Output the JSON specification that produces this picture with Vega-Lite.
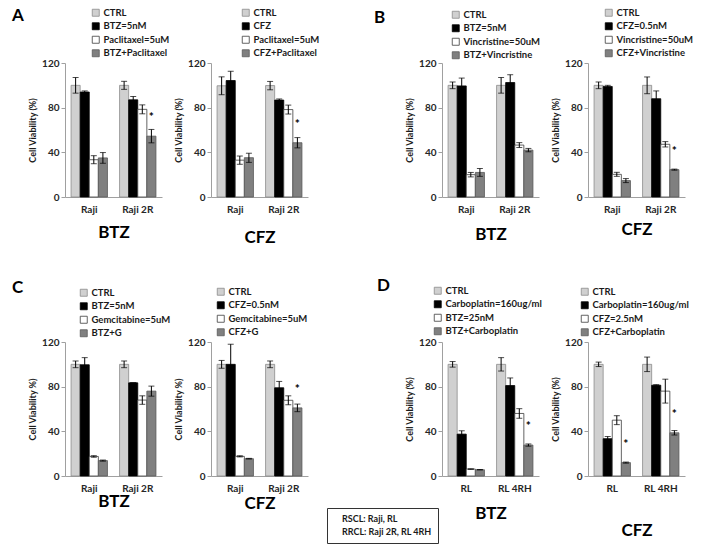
{
  "$schema": "https://vega.github.io/schema/vega-lite/v6.json",
  "padding": {"left": 12, "top": 8, "right": 5, "bottom": 4},
  "bounds": "flush",
  "align": "each",
  "columns": 5,
  "spacing": {"column": 49, "row": 145},
  "resolve": {"scale": {"color": "independent", "stroke": "independent", "xOffset": "independent", "x": "independent", "y": "independent"}, "legend": {"color": "independent", "stroke": "independent"}},
  "config": {
    "font": "Lato",
    "view": {"stroke": null},
    "axis": {"domainColor": "#a0a0a0", "tickColor": "#a0a0a0", "labelFont": "Lato", "labelFontWeight": "bold", "labelColor": "#262626", "labelFontSize": 10, "titleFont": "Lato", "titleFontWeight": "bold", "titleColor": "#1a1a1a", "grid": false},
    "axisX": {"ticks": false, "labelAngle": 0, "labelPadding": 7, "titleFontSize": 17, "titleColor": "#000000"},
    "axisY": {"tickSize": 4, "labelPadding": 2, "titleFontSize": 9, "titlePadding": 4},
    "legend": {"orient": "none", "direction": "vertical", "symbolType": "square", "symbolSize": 49, "symbolStrokeWidth": 0.8, "labelFont": "Lato", "labelFontSize": 9.5, "labelFontWeight": "bold", "labelColor": "#1a1a1a", "rowPadding": 2.5, "labelOffset": 3, "padding": 0, "titleFont": "Lato", "titleFontSize": 17, "titleFontWeight": "bold", "titleColor": "#000000", "titleOrient": "left", "titleAnchor": "start", "titleBaseline": "top"}
  },
  "concat": [
    {
      "width": 97, "height": 134,
      "data": {"values": [
        {"line": "Raji", "trt": "CTRL", "v": 100, "lo": 93, "hi": 107, "sig": ""},
        {"line": "Raji", "trt": "BTZ=5nM", "v": 94, "lo": 93, "hi": 95, "sig": ""},
        {"line": "Raji", "trt": "Paclitaxel=5uM", "v": 33.4, "lo": 29.8, "hi": 37, "sig": ""},
        {"line": "Raji", "trt": "BTZ+Paclitaxel", "v": 35, "lo": 30.2, "hi": 39.8, "sig": ""},
        {"line": "Raji 2R", "trt": "CTRL", "v": 100, "lo": 96.4, "hi": 103.6, "sig": ""},
        {"line": "Raji 2R", "trt": "BTZ=5nM", "v": 87, "lo": 84, "hi": 90, "sig": ""},
        {"line": "Raji 2R", "trt": "Paclitaxel=5uM", "v": 78.5, "lo": 74.5, "hi": 82.5, "sig": ""},
        {"line": "Raji 2R", "trt": "BTZ+Paclitaxel", "v": 54.5, "lo": 48.5, "hi": 60.5, "sig": "*"}
      ]},
      "encoding": {
        "x": {"field": "line", "type": "nominal", "sort": null, "scale": {"paddingInner": 0.25, "paddingOuter": 0.125}, "axis": {"title": "BTZ", "titlePadding": 10}},
        "xOffset": {"field": "trt", "type": "nominal", "sort": null}
      },
      "layer": [
        {"mark": {"type": "bar", "strokeWidth": 0.8},
         "encoding": {
           "y": {"field": "v", "type": "quantitative", "title": "Cell Viability (%)", "scale": {"domain": [0, 120]}, "axis": {"values": [0, 20, 40, 60, 80, 100, 120]}},
           "color": {"field": "trt", "type": "nominal", "sort": null, "scale": {"range": ["#d0d0d0", "#000000", "#ffffff", "#808080"]}, "legend": {"title": "A", "legendX": -53, "legendY": -55, "titlePadding": 67}},
           "stroke": {"field": "trt", "type": "nominal", "sort": null, "scale": {"range": ["#8c8c8c", "#000000", "#3c3c3c", "#595959"]}, "legend": {"title": "A", "legendX": -53, "legendY": -55, "titlePadding": 67}}
         }},
        {"mark": {"type": "rule", "color": "#000000", "strokeWidth": 1}, "encoding": {"y": {"field": "lo", "type": "quantitative", "title": "Cell Viability (%)"}, "y2": {"field": "hi"}}},
        {"mark": {"type": "tick", "color": "#000000", "size": 6, "thickness": 1}, "encoding": {"y": {"field": "lo", "type": "quantitative", "title": "Cell Viability (%)"}}},
        {"mark": {"type": "tick", "color": "#000000", "size": 6, "thickness": 1}, "encoding": {"y": {"field": "hi", "type": "quantitative", "title": "Cell Viability (%)"}}},
        {"mark": {"type": "text", "dy": -15, "fontSize": 12, "fontWeight": "bold", "color": "#000000", "baseline": "alphabetic"}, "encoding": {"y": {"field": "v", "type": "quantitative", "title": "Cell Viability (%)"}, "text": {"field": "sig"}}}
      ]
    },
    {
      "width": 97, "height": 134,
      "data": {"values": [
        {"line": "Raji", "trt": "CTRL", "v": 99.6, "lo": 91.6, "hi": 107.6, "sig": ""},
        {"line": "Raji", "trt": "CFZ", "v": 104.3, "lo": 96, "hi": 112.6, "sig": ""},
        {"line": "Raji", "trt": "Paclitaxel=5uM", "v": 33, "lo": 29.3, "hi": 36.7, "sig": ""},
        {"line": "Raji", "trt": "CFZ+Paclitaxel", "v": 35.2, "lo": 31, "hi": 39.2, "sig": ""},
        {"line": "Raji 2R", "trt": "CTRL", "v": 99.8, "lo": 96, "hi": 103.5, "sig": ""},
        {"line": "Raji 2R", "trt": "CFZ", "v": 86.8, "lo": 85.8, "hi": 87.8, "sig": ""},
        {"line": "Raji 2R", "trt": "Paclitaxel=5uM", "v": 78.3, "lo": 74.3, "hi": 82.3, "sig": ""},
        {"line": "Raji 2R", "trt": "CFZ+Paclitaxel", "v": 48.6, "lo": 44, "hi": 53.2, "sig": "*"}
      ]},
      "encoding": {
        "x": {"field": "line", "type": "nominal", "sort": null, "scale": {"paddingInner": 0.25, "paddingOuter": 0.125}, "axis": {"title": "CFZ", "titlePadding": 15}},
        "xOffset": {"field": "trt", "type": "nominal", "sort": null}
      },
      "layer": [
        {"mark": {"type": "bar", "strokeWidth": 0.8},
         "encoding": {
           "y": {"field": "v", "type": "quantitative", "title": "Cell Viability (%)", "scale": {"domain": [0, 120]}, "axis": {"values": [0, 20, 40, 60, 80, 100, 120]}},
           "color": {"field": "trt", "type": "nominal", "sort": null, "scale": {"range": ["#d0d0d0", "#000000", "#ffffff", "#808080"]}, "legend": {"title": null, "legendX": 30, "legendY": -55}},
           "stroke": {"field": "trt", "type": "nominal", "sort": null, "scale": {"range": ["#8c8c8c", "#000000", "#3c3c3c", "#595959"]}, "legend": {"title": null, "legendX": 30, "legendY": -55}}
         }},
        {"mark": {"type": "rule", "color": "#000000", "strokeWidth": 1}, "encoding": {"y": {"field": "lo", "type": "quantitative", "title": "Cell Viability (%)"}, "y2": {"field": "hi"}}},
        {"mark": {"type": "tick", "color": "#000000", "size": 6, "thickness": 1}, "encoding": {"y": {"field": "lo", "type": "quantitative", "title": "Cell Viability (%)"}}},
        {"mark": {"type": "tick", "color": "#000000", "size": 6, "thickness": 1}, "encoding": {"y": {"field": "hi", "type": "quantitative", "title": "Cell Viability (%)"}}},
        {"mark": {"type": "text", "dy": -15, "fontSize": 12, "fontWeight": "bold", "color": "#000000", "baseline": "alphabetic"}, "encoding": {"y": {"field": "v", "type": "quantitative", "title": "Cell Viability (%)"}, "text": {"field": "sig"}}}
      ]
    },
    {
      "width": 36, "height": 134,
      "data": {"values": []},
      "mark": {"type": "point", "opacity": 0},
      "encoding": {}
    },
    {
      "width": 97, "height": 134,
      "data": {"values": [
        {"line": "Raji", "trt": "CTRL", "v": 100, "lo": 97, "hi": 103, "sig": ""},
        {"line": "Raji", "trt": "BTZ=5nM", "v": 99.5, "lo": 92.5, "hi": 106.5, "sig": ""},
        {"line": "Raji", "trt": "Vincristine=50uM", "v": 20, "lo": 18, "hi": 22, "sig": ""},
        {"line": "Raji", "trt": "BTZ+Vincristine", "v": 22, "lo": 18.5, "hi": 25.5, "sig": ""},
        {"line": "Raji 2R", "trt": "CTRL", "v": 100, "lo": 93, "hi": 107, "sig": ""},
        {"line": "Raji 2R", "trt": "BTZ=5nM", "v": 102.5, "lo": 95.5, "hi": 109.5, "sig": ""},
        {"line": "Raji 2R", "trt": "Vincristine=50uM", "v": 46.5, "lo": 44.3, "hi": 48.7, "sig": ""},
        {"line": "Raji 2R", "trt": "BTZ+Vincristine", "v": 42, "lo": 40.5, "hi": 43.5, "sig": ""}
      ]},
      "encoding": {
        "x": {"field": "line", "type": "nominal", "sort": null, "scale": {"paddingInner": 0.25, "paddingOuter": 0.125}, "axis": {"title": "BTZ", "titlePadding": 12}},
        "xOffset": {"field": "trt", "type": "nominal", "sort": null}
      },
      "layer": [
        {"mark": {"type": "bar", "strokeWidth": 0.8},
         "encoding": {
           "y": {"field": "v", "type": "quantitative", "title": "Cell Viability (%)", "scale": {"domain": [0, 120]}, "axis": {"values": [0, 20, 40, 60, 80, 100, 120]}},
           "color": {"field": "trt", "type": "nominal", "sort": null, "scale": {"range": ["#d0d0d0", "#000000", "#ffffff", "#808080"]}, "legend": {"title": "B", "legendX": -68, "legendY": -53, "titlePadding": 65}},
           "stroke": {"field": "trt", "type": "nominal", "sort": null, "scale": {"range": ["#8c8c8c", "#000000", "#3c3c3c", "#595959"]}, "legend": {"title": "B", "legendX": -68, "legendY": -53, "titlePadding": 65}}
         }},
        {"mark": {"type": "rule", "color": "#000000", "strokeWidth": 1}, "encoding": {"y": {"field": "lo", "type": "quantitative", "title": "Cell Viability (%)"}, "y2": {"field": "hi"}}},
        {"mark": {"type": "tick", "color": "#000000", "size": 6, "thickness": 1}, "encoding": {"y": {"field": "lo", "type": "quantitative", "title": "Cell Viability (%)"}}},
        {"mark": {"type": "tick", "color": "#000000", "size": 6, "thickness": 1}, "encoding": {"y": {"field": "hi", "type": "quantitative", "title": "Cell Viability (%)"}}},
        {"mark": {"type": "text", "dy": -15, "fontSize": 12, "fontWeight": "bold", "color": "#000000", "baseline": "alphabetic"}, "encoding": {"y": {"field": "v", "type": "quantitative", "title": "Cell Viability (%)"}, "text": {"field": "sig"}}}
      ]
    },
    {
      "width": 97, "height": 134,
      "data": {"values": [
        {"line": "Raji", "trt": "CTRL", "v": 100, "lo": 97, "hi": 103, "sig": ""},
        {"line": "Raji", "trt": "CFZ=0.5nM", "v": 99, "lo": 98, "hi": 100, "sig": ""},
        {"line": "Raji", "trt": "Vincristine=50uM", "v": 20.3, "lo": 18.5, "hi": 22.1, "sig": ""},
        {"line": "Raji", "trt": "CFZ+Vincristine", "v": 14.7, "lo": 12.9, "hi": 16.5, "sig": ""},
        {"line": "Raji 2R", "trt": "CTRL", "v": 100, "lo": 92.5, "hi": 107.5, "sig": ""},
        {"line": "Raji 2R", "trt": "CFZ=0.5nM", "v": 88, "lo": 81, "hi": 95, "sig": ""},
        {"line": "Raji 2R", "trt": "Vincristine=50uM", "v": 47.2, "lo": 44.8, "hi": 49.6, "sig": ""},
        {"line": "Raji 2R", "trt": "CFZ+Vincristine", "v": 24.5, "lo": 24, "hi": 25, "sig": "*"}
      ]},
      "encoding": {
        "x": {"field": "line", "type": "nominal", "sort": null, "scale": {"paddingInner": 0.25, "paddingOuter": 0.125}, "axis": {"title": "CFZ", "titlePadding": 7}},
        "xOffset": {"field": "trt", "type": "nominal", "sort": null}
      },
      "layer": [
        {"mark": {"type": "bar", "strokeWidth": 0.8},
         "encoding": {
           "y": {"field": "v", "type": "quantitative", "title": "Cell Viability (%)", "scale": {"domain": [0, 120]}, "axis": {"values": [0, 20, 40, 60, 80, 100, 120]}},
           "color": {"field": "trt", "type": "nominal", "sort": null, "scale": {"range": ["#d0d0d0", "#000000", "#ffffff", "#808080"]}, "legend": {"title": null, "legendX": 16, "legendY": -55}},
           "stroke": {"field": "trt", "type": "nominal", "sort": null, "scale": {"range": ["#8c8c8c", "#000000", "#3c3c3c", "#595959"]}, "legend": {"title": null, "legendX": 16, "legendY": -55}}
         }},
        {"mark": {"type": "rule", "color": "#000000", "strokeWidth": 1}, "encoding": {"y": {"field": "lo", "type": "quantitative", "title": "Cell Viability (%)"}, "y2": {"field": "hi"}}},
        {"mark": {"type": "tick", "color": "#000000", "size": 6, "thickness": 1}, "encoding": {"y": {"field": "lo", "type": "quantitative", "title": "Cell Viability (%)"}}},
        {"mark": {"type": "tick", "color": "#000000", "size": 6, "thickness": 1}, "encoding": {"y": {"field": "hi", "type": "quantitative", "title": "Cell Viability (%)"}}},
        {"mark": {"type": "text", "dy": -15, "fontSize": 12, "fontWeight": "bold", "color": "#000000", "baseline": "alphabetic"}, "encoding": {"y": {"field": "v", "type": "quantitative", "title": "Cell Viability (%)"}, "text": {"field": "sig"}}}
      ]
    },
    {
      "width": 97, "height": 134,
      "data": {"values": [
        {"line": "Raji", "trt": "CTRL", "v": 100, "lo": 97, "hi": 103, "sig": ""},
        {"line": "Raji", "trt": "BTZ=5nM", "v": 99.6, "lo": 93.2, "hi": 106, "sig": ""},
        {"line": "Raji", "trt": "Gemcitabine=5uM", "v": 17.5, "lo": 16.8, "hi": 18.2, "sig": ""},
        {"line": "Raji", "trt": "BTZ+G", "v": 13.8, "lo": 13.3, "hi": 14.3, "sig": ""},
        {"line": "Raji 2R", "trt": "CTRL", "v": 100, "lo": 97, "hi": 103, "sig": ""},
        {"line": "Raji 2R", "trt": "BTZ=5nM", "v": 83.4, "lo": 83.4, "hi": 83.4, "sig": ""},
        {"line": "Raji 2R", "trt": "Gemcitabine=5uM", "v": 68, "lo": 64.2, "hi": 71.8, "sig": ""},
        {"line": "Raji 2R", "trt": "BTZ+G", "v": 76, "lo": 71.5, "hi": 80.5, "sig": ""}
      ]},
      "encoding": {
        "x": {"field": "line", "type": "nominal", "sort": null, "scale": {"paddingInner": 0.25, "paddingOuter": 0.125}, "axis": {"title": "BTZ", "titlePadding": 0}},
        "xOffset": {"field": "trt", "type": "nominal", "sort": null}
      },
      "layer": [
        {"mark": {"type": "bar", "strokeWidth": 0.8},
         "encoding": {
           "y": {"field": "v", "type": "quantitative", "title": "Cell Viability %)", "scale": {"domain": [0, 120]}, "axis": {"values": [0, 20, 40, 60, 80, 100, 120]}},
           "color": {"field": "trt", "type": "nominal", "sort": null, "scale": {"range": ["#d0d0d0", "#000000", "#ffffff", "#808080"]}, "legend": {"title": "C", "legendX": -53, "legendY": -54, "titlePadding": 55, "titleBaseline": "middle"}},
           "stroke": {"field": "trt", "type": "nominal", "sort": null, "scale": {"range": ["#8c8c8c", "#000000", "#3c3c3c", "#595959"]}, "legend": {"title": "C", "legendX": -53, "legendY": -54, "titlePadding": 55, "titleBaseline": "middle"}}
         }},
        {"mark": {"type": "rule", "color": "#000000", "strokeWidth": 1}, "encoding": {"y": {"field": "lo", "type": "quantitative", "title": "Cell Viability %)"}, "y2": {"field": "hi"}}},
        {"mark": {"type": "tick", "color": "#000000", "size": 6, "thickness": 1}, "encoding": {"y": {"field": "lo", "type": "quantitative", "title": "Cell Viability %)"}}},
        {"mark": {"type": "tick", "color": "#000000", "size": 6, "thickness": 1}, "encoding": {"y": {"field": "hi", "type": "quantitative", "title": "Cell Viability %)"}}},
        {"mark": {"type": "text", "dy": -15, "fontSize": 12, "fontWeight": "bold", "color": "#000000", "baseline": "alphabetic"}, "encoding": {"y": {"field": "v", "type": "quantitative", "title": "Cell Viability %)"}, "text": {"field": "sig"}}}
      ]
    },
    {
      "width": 97, "height": 134,
      "data": {"values": [
        {"line": "Raji", "trt": "CTRL", "v": 100, "lo": 96.5, "hi": 103.5, "sig": ""},
        {"line": "Raji", "trt": "CFZ=0.5nM", "v": 100, "lo": 82, "hi": 118, "sig": ""},
        {"line": "Raji", "trt": "Gemcitabine=5uM", "v": 17.6, "lo": 17.1, "hi": 18.1, "sig": ""},
        {"line": "Raji", "trt": "CFZ+G", "v": 15.5, "lo": 15.2, "hi": 15.8, "sig": ""},
        {"line": "Raji 2R", "trt": "CTRL", "v": 100, "lo": 97, "hi": 103, "sig": ""},
        {"line": "Raji 2R", "trt": "CFZ=0.5nM", "v": 79, "lo": 73.3, "hi": 84.7, "sig": ""},
        {"line": "Raji 2R", "trt": "Gemcitabine=5uM", "v": 67.8, "lo": 63.8, "hi": 71.8, "sig": ""},
        {"line": "Raji 2R", "trt": "CFZ+G", "v": 61, "lo": 57.6, "hi": 64.4, "sig": "*"}
      ]},
      "encoding": {
        "x": {"field": "line", "type": "nominal", "sort": null, "scale": {"paddingInner": 0.25, "paddingOuter": 0.125}, "axis": {"title": "CFZ", "titlePadding": 2}},
        "xOffset": {"field": "trt", "type": "nominal", "sort": null}
      },
      "layer": [
        {"mark": {"type": "bar", "strokeWidth": 0.8},
         "encoding": {
           "y": {"field": "v", "type": "quantitative", "title": "Cell Viability %)", "scale": {"domain": [0, 120]}, "axis": {"values": [0, 20, 40, 60, 80, 100, 120]}},
           "color": {"field": "trt", "type": "nominal", "sort": null, "scale": {"range": ["#d0d0d0", "#000000", "#ffffff", "#808080"]}, "legend": {"title": null, "legendX": 5, "legendY": -55}},
           "stroke": {"field": "trt", "type": "nominal", "sort": null, "scale": {"range": ["#8c8c8c", "#000000", "#3c3c3c", "#595959"]}, "legend": {"title": null, "legendX": 5, "legendY": -55}}
         }},
        {"mark": {"type": "rule", "color": "#000000", "strokeWidth": 1}, "encoding": {"y": {"field": "lo", "type": "quantitative", "title": "Cell Viability %)"}, "y2": {"field": "hi"}}},
        {"mark": {"type": "tick", "color": "#000000", "size": 6, "thickness": 1}, "encoding": {"y": {"field": "lo", "type": "quantitative", "title": "Cell Viability %)"}}},
        {"mark": {"type": "tick", "color": "#000000", "size": 6, "thickness": 1}, "encoding": {"y": {"field": "hi", "type": "quantitative", "title": "Cell Viability %)"}}},
        {"mark": {"type": "text", "dy": -15, "fontSize": 12, "fontWeight": "bold", "color": "#000000", "baseline": "alphabetic"}, "encoding": {"y": {"field": "v", "type": "quantitative", "title": "Cell Viability %)"}, "text": {"field": "sig"}}}
      ]
    },
    {
      "width": 36, "height": 134,
      "data": {"values": [
        {"note": "RSCL: Raji, RL"},
        {"note": "RRCL: Raji 2R, RL 4RH"}
      ]},
      "mark": {"type": "point", "opacity": 0},
      "encoding": {
        "color": {"field": "note", "type": "nominal", "sort": null, "scale": {"range": ["#000000", "#000000"]}, "legend": {"title": null, "legendX": -30, "legendY": 166, "symbolSize": 0, "symbolOpacity": 0, "symbolStrokeWidth": 0, "labelOffset": 0, "padding": 6, "strokeColor": "#333333", "fillColor": "#ffffff", "labelFontSize": 9, "rowPadding": 3}}
      }
    },
    {
      "width": 97, "height": 134,
      "data": {"values": [
        {"line": "RL", "trt": "CTRL", "v": 100, "lo": 97.5, "hi": 102.5, "sig": ""},
        {"line": "RL", "trt": "Carboplatin=160ug/ml", "v": 37.5, "lo": 34.5, "hi": 40.5, "sig": ""},
        {"line": "RL", "trt": "BTZ=25nM", "v": 6.2, "lo": 6, "hi": 6.4, "sig": ""},
        {"line": "RL", "trt": "BTZ+Carboplatin", "v": 5.6, "lo": 5.4, "hi": 5.8, "sig": ""},
        {"line": "RL 4RH", "trt": "CTRL", "v": 100, "lo": 94, "hi": 106, "sig": ""},
        {"line": "RL 4RH", "trt": "Carboplatin=160ug/ml", "v": 81, "lo": 74.2, "hi": 87.8, "sig": ""},
        {"line": "RL 4RH", "trt": "BTZ=25nM", "v": 56, "lo": 51.7, "hi": 60.3, "sig": ""},
        {"line": "RL 4RH", "trt": "BTZ+Carboplatin", "v": 27.7, "lo": 26.7, "hi": 28.7, "sig": "*"}
      ]},
      "encoding": {
        "x": {"field": "line", "type": "nominal", "sort": null, "scale": {"paddingInner": 0.25, "paddingOuter": 0.125}, "axis": {"title": "BTZ", "titlePadding": 12}},
        "xOffset": {"field": "trt", "type": "nominal", "sort": null}
      },
      "layer": [
        {"mark": {"type": "bar", "strokeWidth": 0.8},
         "encoding": {
           "y": {"field": "v", "type": "quantitative", "title": "Cell Viability (%)", "scale": {"domain": [0, 120]}, "axis": {"values": [0, 20, 40, 60, 80, 100, 120]}},
           "color": {"field": "trt", "type": "nominal", "sort": null, "scale": {"range": ["#d0d0d0", "#000000", "#ffffff", "#808080"]}, "legend": {"title": "D", "legendX": -65, "legendY": -56, "titlePadding": 43, "titleBaseline": "middle"}},
           "stroke": {"field": "trt", "type": "nominal", "sort": null, "scale": {"range": ["#8c8c8c", "#000000", "#3c3c3c", "#595959"]}, "legend": {"title": "D", "legendX": -65, "legendY": -56, "titlePadding": 43, "titleBaseline": "middle"}}
         }},
        {"mark": {"type": "rule", "color": "#000000", "strokeWidth": 1}, "encoding": {"y": {"field": "lo", "type": "quantitative", "title": "Cell Viability (%)"}, "y2": {"field": "hi"}}},
        {"mark": {"type": "tick", "color": "#000000", "size": 6, "thickness": 1}, "encoding": {"y": {"field": "lo", "type": "quantitative", "title": "Cell Viability (%)"}}},
        {"mark": {"type": "tick", "color": "#000000", "size": 6, "thickness": 1}, "encoding": {"y": {"field": "hi", "type": "quantitative", "title": "Cell Viability (%)"}}},
        {"mark": {"type": "text", "dy": -15, "fontSize": 12, "fontWeight": "bold", "color": "#000000", "baseline": "alphabetic"}, "encoding": {"y": {"field": "v", "type": "quantitative", "title": "Cell Viability (%)"}, "text": {"field": "sig"}}}
      ]
    },
    {
      "width": 97, "height": 134,
      "data": {"values": [
        {"line": "RL", "trt": "CTRL", "v": 100, "lo": 98, "hi": 102, "sig": ""},
        {"line": "RL", "trt": "Carboplatin=160ug/ml", "v": 33.4, "lo": 31.4, "hi": 35.4, "sig": ""},
        {"line": "RL", "trt": "CFZ=2.5nM", "v": 50, "lo": 46, "hi": 54, "sig": ""},
        {"line": "RL", "trt": "CFZ+Carboplatin", "v": 12, "lo": 11.5, "hi": 12.5, "sig": "*"},
        {"line": "RL 4RH", "trt": "CTRL", "v": 100, "lo": 93.5, "hi": 106.5, "sig": ""},
        {"line": "RL 4RH", "trt": "Carboplatin=160ug/ml", "v": 81.3, "lo": 80.8, "hi": 81.8, "sig": ""},
        {"line": "RL 4RH", "trt": "CFZ=2.5nM", "v": 76, "lo": 65.3, "hi": 86.7, "sig": ""},
        {"line": "RL 4RH", "trt": "CFZ+Carboplatin", "v": 38.7, "lo": 36.7, "hi": 40.7, "sig": "*"}
      ]},
      "encoding": {
        "x": {"field": "line", "type": "nominal", "sort": null, "scale": {"paddingInner": 0.25, "paddingOuter": 0.125}, "axis": {"title": "CFZ", "titlePadding": 29}},
        "xOffset": {"field": "trt", "type": "nominal", "sort": null}
      },
      "layer": [
        {"mark": {"type": "bar", "strokeWidth": 0.8},
         "encoding": {
           "y": {"field": "v", "type": "quantitative", "title": "Cell Viability (%)", "scale": {"domain": [0, 120]}, "axis": {"values": [0, 20, 40, 60, 80, 100, 120]}},
           "color": {"field": "trt", "type": "nominal", "sort": null, "scale": {"range": ["#d0d0d0", "#000000", "#ffffff", "#808080"]}, "legend": {"title": null, "legendX": -8, "legendY": -55}},
           "stroke": {"field": "trt", "type": "nominal", "sort": null, "scale": {"range": ["#8c8c8c", "#000000", "#3c3c3c", "#595959"]}, "legend": {"title": null, "legendX": -8, "legendY": -55}}
         }},
        {"mark": {"type": "rule", "color": "#000000", "strokeWidth": 1}, "encoding": {"y": {"field": "lo", "type": "quantitative", "title": "Cell Viability (%)"}, "y2": {"field": "hi"}}},
        {"mark": {"type": "tick", "color": "#000000", "size": 6, "thickness": 1}, "encoding": {"y": {"field": "lo", "type": "quantitative", "title": "Cell Viability (%)"}}},
        {"mark": {"type": "tick", "color": "#000000", "size": 6, "thickness": 1}, "encoding": {"y": {"field": "hi", "type": "quantitative", "title": "Cell Viability (%)"}}},
        {"mark": {"type": "text", "dy": -15, "fontSize": 12, "fontWeight": "bold", "color": "#000000", "baseline": "alphabetic"}, "encoding": {"y": {"field": "v", "type": "quantitative", "title": "Cell Viability (%)"}, "text": {"field": "sig"}}}
      ]
    }
  ]
}
